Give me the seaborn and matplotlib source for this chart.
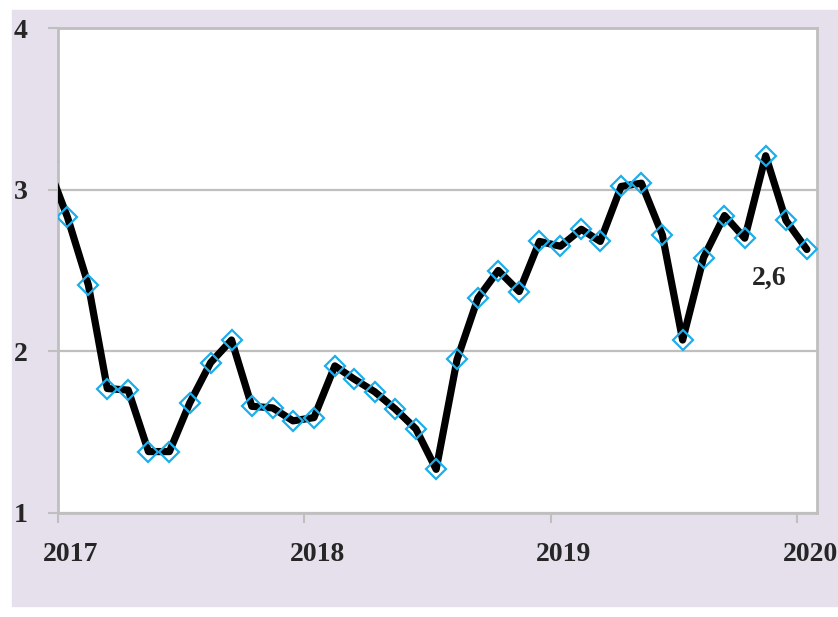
import pandas as pd
import matplotlib
matplotlib.use("Agg")
import matplotlib.pyplot as plt
from matplotlib.patches import Rectangle
from matplotlib.transforms import ScaledTranslation
import seaborn as sns

# Monthly values, Dec 2016 .. Jan 2020 (mid-month points)
months = pd.date_range("2016-12-01", periods=38, freq="MS") + pd.Timedelta(days=14)
values = [3.17,
          2.83, 2.41, 1.77, 1.76, 1.38, 1.38, 1.68, 1.93, 2.07, 1.66, 1.65, 1.57,
          1.59, 1.91, 1.83, 1.75, 1.645, 1.52, 1.27, 1.95, 2.33, 2.50, 2.37, 2.68,
          2.65, 2.755, 2.68, 3.02, 3.04, 2.72, 2.07, 2.58, 2.84, 2.70, 3.21, 2.81,
          2.63]
year_ticks = ["2017-01-01", "2018-01-01", "2019-01-01", "2020-01-01"]
year_labels = ["2017", "2018", "2019", "2020"]
y_ticks = [1, 2, 3, 4]
last_label = "2,6"

df = pd.DataFrame({"month": months, "value": values})

sns.set_style("white")
plt.rcParams["font.family"] = ["Liberation Serif", "DejaVu Serif"]
plt.rcParams["font.weight"] = "bold"

fig = plt.figure(figsize=(8.38, 6.17), dpi=100, facecolor="white")
# lavender panel behind the chart
fig.patches.append(Rectangle((12 / 838, 1 - 606 / 617), 826 / 838, 596 / 617,
                             transform=fig.transFigure, color="#E5E0EC", zorder=-5))
ax = fig.add_axes([58 / 838, 1 - 513 / 617, 759 / 838, 485 / 617])
ax.set_facecolor("white")

sns.lineplot(data=df, x="month", y="value", ax=ax, color="black", linewidth=5.2,
             marker="D", markersize=10, markerfacecolor="none",
             markeredgecolor="#1BAEEA", markeredgewidth=1.6, zorder=3)

ax.set_xlim(pd.Timestamp("2017-01-01"), pd.Timestamp("2020-01-30"))
ax.set_ylim(1, 4)
ax.set_yticks(y_ticks)
ax.set_yticklabels([str(t) for t in y_ticks])
ax.set_xticks(pd.to_datetime(year_ticks))
ax.set_xticklabels(year_labels)
ax.set_xlabel("")
ax.set_ylabel("")

ax.grid(axis="y", color="#BFBFBF", linewidth=1.6)
ax.grid(axis="x", visible=False)
for side in ["left", "bottom", "top", "right"]:
    ax.spines[side].set_visible(True)
    ax.spines[side].set_color("#BFBFBF")
    ax.spines[side].set_linewidth(2)

ax.tick_params(axis="both", length=7, width=1.5, color="#BFBFBF",
               labelsize=20, direction="out")
ax.tick_params(axis="y", pad=15, left=True)
ax.tick_params(axis="x", pad=14, bottom=True)

# year labels sit a bit to the right of their ticks
for lab in ax.get_xticklabels():
    lab.set_transform(lab.get_transform() + ScaledTranslation(0.13, 0, fig.dpi_scale_trans))

ax.text(pd.Timestamp("2019-11-20"), 2.45, last_label, ha="center", va="center",
        fontsize=20, fontweight="bold")

fig.savefig("out.png", dpi=100, facecolor="white")
